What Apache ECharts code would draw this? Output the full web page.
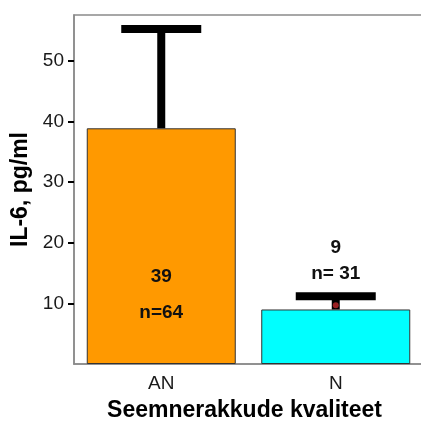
<!DOCTYPE html>
<html><head><meta charset="utf-8">
<script src="https://cdn.jsdelivr.net/npm/echarts@6/dist/echarts.min.js"></script>
<style>html,body{margin:0;padding:0;background:#fff}#c{width:421px;height:422px}</style>
</head><body><div id="c"></div>
<script>
const categories = ['AN', 'N'];
const means = [38.9, 9.0];
const upper = [55.3, 11.2];
const meanText = ['39', '9'];
const nText = ['n=64', 'n= 31'];
const pointValues = [null, 9.7];
const yTicks = [10, 20, 30, 40, 50];
const barColors = ['#FF9900', '#00FFFF'];

const chart = echarts.init(document.getElementById('c'), null, {renderer: 'canvas'});
const FONT = 'Liberation Sans, Arial, sans-serif';
// annotation anchors (value units) per category: [meanText, nText]
const annotAnchors = [[14.4, 8.5], [19.2, 14.9]];

chart.setOption({
  animation: false,
  grid: {left: 74, top: 15, width: 349, height: 349, outerBoundsMode: 'none', containLabel: false,
         show: true, borderColor: '#8a8a8a', borderWidth: 1.5, backgroundColor: 'transparent'},
  xAxis: {
    type: 'category', data: categories,
    axisLine: {lineStyle: {color: '#8a8a8a', width: 1.5}},
    axisTick: {alignWithLabel: true, length: 5, lineStyle: {color: '#000', width: 2.5}},
    axisLabel: {color: '#1a1a1a', fontSize: 19, fontFamily: FONT, margin: 10},
    name: 'Seemnerakkude kvaliteet', nameLocation: 'middle', nameGap: 35,
    nameTextStyle: {fontSize: 23, fontWeight: 'bold', color: '#000', fontFamily: FONT, padding: [0, 8, 0, 0]}
  },
  yAxis: {
    type: 'value', min: 0, max: 57.6,
    splitLine: {show: false},
    axisLine: {show: true, lineStyle: {color: '#8a8a8a', width: 1.5}},
    axisTick: {show: true, length: 6, customValues: yTicks, lineStyle: {color: '#000', width: 2}},
    axisLabel: {customValues: yTicks, color: '#1a1a1a', fontSize: 19, fontFamily: FONT, margin: 10},
    name: 'IL-6, pg/ml', nameLocation: 'middle', nameGap: 40, nameRotate: 90,
    nameTextStyle: {fontSize: 23, fontWeight: 'bold', color: '#000', fontFamily: FONT}
  },
  series: [
    {
      type: 'bar', barWidth: 149, z: 2,
      data: means.map((v, i) => ({value: v, itemStyle: {color: barColors[i]}})),
      itemStyle: {borderColor: '#333', borderWidth: 1}
    },
    {
      type: 'custom', z: 3,
      data: means.map((m, i) => [i, m, upper[i]]),
      renderItem: function (params, api) {
        const i = api.value(0);
        const lo = api.coord([i, api.value(1)]);
        const hi = api.coord([i, api.value(2)]);
        return {
          type: 'group',
          children: [
            {type: 'line', shape: {x1: lo[0], y1: lo[1], x2: hi[0], y2: hi[1]}, style: {stroke: '#000', lineWidth: 8}},
            {type: 'rect', shape: {x: hi[0] - 40, y: hi[1] - 4, width: 80, height: 8}, style: {fill: '#000'}}
          ]
        };
      }
    },
    {
      type: 'scatter', z: 4, symbolSize: 6,
      itemStyle: {color: '#c0282a'},
      data: pointValues.map((v, i) => v == null ? null : [i, v]).filter(d => d)
    },
    {
      type: 'custom', z: 5,
      data: categories.map((c, i) => [i]),
      renderItem: function (params, api) {
        const i = api.value(0);
        const a = api.coord([i, annotAnchors[i][0]]);
        const b = api.coord([i, annotAnchors[i][1]]);
        const st = {fontSize: 19, fontWeight: 'bold', fontFamily: FONT, fill: '#111', align: 'center', verticalAlign: 'middle'};
        return {
          type: 'group',
          children: [
            {type: 'text', style: Object.assign({x: a[0], y: a[1], text: meanText[i]}, st)},
            {type: 'text', style: Object.assign({x: b[0], y: b[1], text: nText[i]}, st)}
          ]
        };
      }
    }
  ]
});
</script></body></html>
